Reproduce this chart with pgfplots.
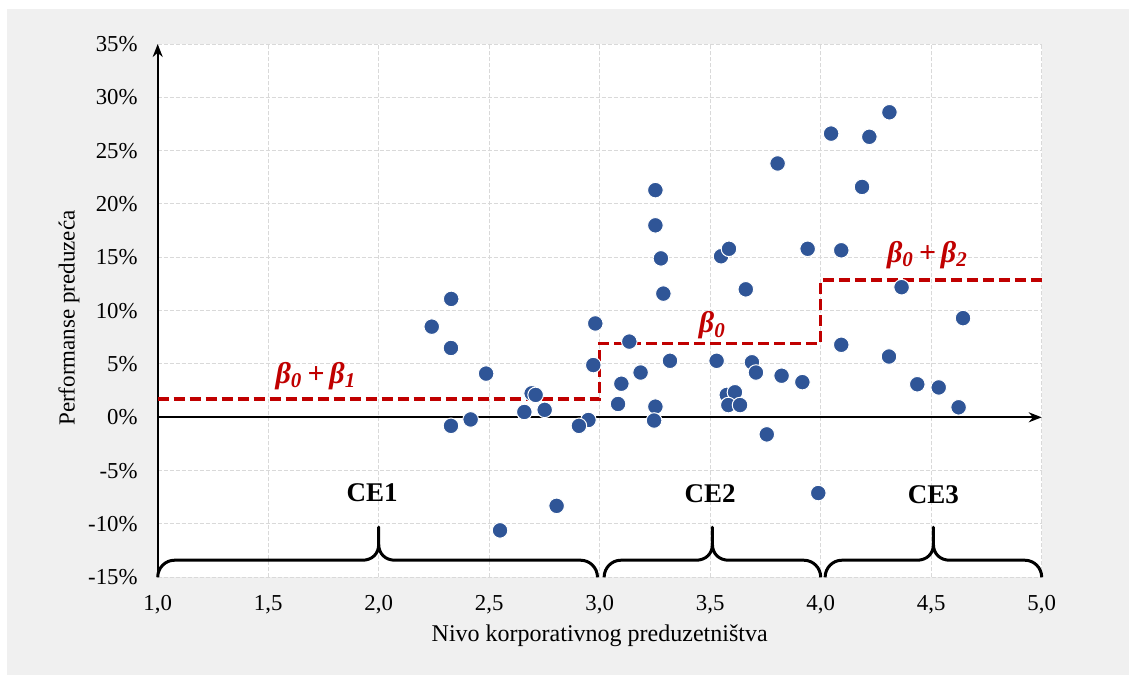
\documentclass[border=0pt]{standalone}
\usepackage{fontspec}
\setmainfont{Liberation Serif}
\usepackage{pgfplots}
\pgfplotsset{compat=1.18}
\usetikzlibrary{arrows.meta}

\definecolor{panel}{HTML}{F0F0F0}
\definecolor{dotblue}{HTML}{2F5597}
\definecolor{stepred}{HTML}{C00000}
\definecolor{gridgray}{HTML}{D9D9D9}

% curly brace under a CE range: start, tip, end (data x values)
\newcommand{\cebrace}[3]{%
  \draw[line width=1.5pt, line join=round]
    (axis cs:#1,-15) .. controls (axis cs:#1,-14.1) and (axis cs:#1+0.035,-13.4) .. (axis cs:#1+0.075,-13.4)
    -- (axis cs:#2-0.075,-13.4)
    .. controls (axis cs:#2-0.03,-13.4) and (axis cs:#2,-12.8) .. (axis cs:#2,-11.9)
    -- (axis cs:#2,-10.3)
    -- (axis cs:#2,-11.9)
    .. controls (axis cs:#2,-12.8) and (axis cs:#2+0.03,-13.4) .. (axis cs:#2+0.075,-13.4)
    -- (axis cs:#3-0.075,-13.4)
    .. controls (axis cs:#3-0.035,-13.4) and (axis cs:#3,-14.1) .. (axis cs:#3,-15);}

\begin{document}
\begin{tikzpicture}
\useasboundingbox (0,0) rectangle (564.5pt,-337.5pt);
\fill[white] (0,0) rectangle (564.5pt,-337.5pt);
\fill[panel] (3.5pt,-4.5pt) rectangle (564.5pt,-337.5pt);
\begin{axis}[
  at={(78.85pt,-288.65pt)}, anchor=south west,
  width=442pt, height=266.65pt, scale only axis,
  xmin=1, xmax=5, ymin=-15, ymax=35,
  clip=false,
  axis background/.style={fill=white},
  axis line style={draw=none},
  major tick length=0pt,
  xtick={1,1.5,2,2.5,3,3.5,4,4.5,5},
  xticklabels={{1,0},{1,5},{2,0},{2,5},{3,0},{3,5},{4,0},{4,5},{5,0}},
  ytick={-15,-10,-5,0,5,10,15,20,25,30,35},
  yticklabels={-15\%,-10\%,-5\%,0\%,5\%,10\%,15\%,20\%,25\%,30\%,35\%},
  ticklabel style={font=\fontsize{11.4}{13}\selectfont},
  xticklabel style={yshift=-5.5pt},
  yticklabel style={xshift=-6.5pt},
  grid=major,
  grid style={gridgray, dashed, dash pattern=on 2pt off 1pt, line width=0.5pt},
  xlabel={Nivo korporativnog preduzetništva},
  ylabel={Performanse preduzeća},
  every axis x label/.style={at={(axis description cs:0.5,-0.110)}, anchor=center,
    font=\fontsize{12}{14}\selectfont},
  every axis y label/.style={at={(axis description cs:-0.1003,0.486)}, rotate=90, anchor=center,
    font=\fontsize{11.5}{14}\selectfont},
]
% axes through the origin of the value scale
\draw[line width=1pt, -{Stealth[length=6.5pt,width=5pt]}] (axis cs:1,-15) -- (axis cs:1,35);
\draw[line width=1pt, -{Stealth[length=6.5pt,width=5pt]}] (axis cs:1,0) -- (axis cs:5,0);

% firms
\addplot[only marks, mark=*, mark size=3.9pt,
  mark options={fill=dotblue, draw=white, line width=0.5pt}] coordinates {
  (2.328,11.1) (2.240,8.5) (2.327,6.5) (2.486,4.1) (2.327,-0.8) (2.416,-0.2)
  (2.692,2.25) (2.710,2.1) (2.659,0.5) (2.751,0.7) (2.949,-0.25) (2.906,-0.8)
  (2.980,8.8) (2.971,4.9) (3.134,7.1) (3.098,3.15) (3.083,1.25)
  (2.549,-10.6) (2.805,-8.3)
  (3.252,21.3) (3.252,18.0) (3.277,14.9) (3.288,11.6) (3.318,5.3) (3.185,4.2)
  (3.252,1.0) (3.246,-0.3)
  (3.805,23.8) (3.549,15.1) (3.585,15.8) (3.941,15.8) (3.661,12.0) (3.529,5.3)
  (3.689,5.16) (3.707,4.2) (3.823,3.9) (3.917,3.3) (3.575,2.1) (3.612,2.35)
  (3.582,1.15) (3.635,1.15) (3.756,-1.6) (3.989,-7.1)
  (4.311,28.6) (4.047,26.6) (4.220,26.3) (4.187,21.6) (4.093,15.66) (4.366,12.2)
  (4.644,9.3) (4.093,6.8) (4.309,5.7) (4.437,3.1) (4.534,2.8) (4.624,0.94)
};

% fitted group levels
\addplot[stepred, line width=1.6pt, dash pattern=on 5.5pt off 2.5pt] coordinates {
  (1,1.72) (3,1.72) (3,6.94) (4,6.94) (4,12.87) (5,12.87)
};

\node[text=stepred, font=\fontsize{15}{17}\selectfont\bfseries\itshape]
  at (axis cs:1.716,3.9) {β\textsubscript{0}\,+\,β\textsubscript{1}};
\node[text=stepred, font=\fontsize{15}{17}\selectfont\bfseries\itshape]
  at (axis cs:3.51,8.6) {β\textsubscript{0}};
\node[text=stepred, font=\fontsize{15}{17}\selectfont\bfseries\itshape]
  at (axis cs:4.483,15.2) {β\textsubscript{0}\,+\,β\textsubscript{2}};

\node[font=\fontsize{13.5}{16}\selectfont\bfseries] at (axis cs:1.97,-7.05) {CE1};
\node[font=\fontsize{13.5}{16}\selectfont\bfseries] at (axis cs:3.50,-7.2) {CE2};
\node[font=\fontsize{13.5}{16}\selectfont\bfseries] at (axis cs:4.51,-7.3) {CE3};

\cebrace{1.0}{2.0}{2.99}
\cebrace{3.02}{3.51}{4.0}
\cebrace{4.02}{4.51}{5.0}
\end{axis}
\end{tikzpicture}
\end{document}
